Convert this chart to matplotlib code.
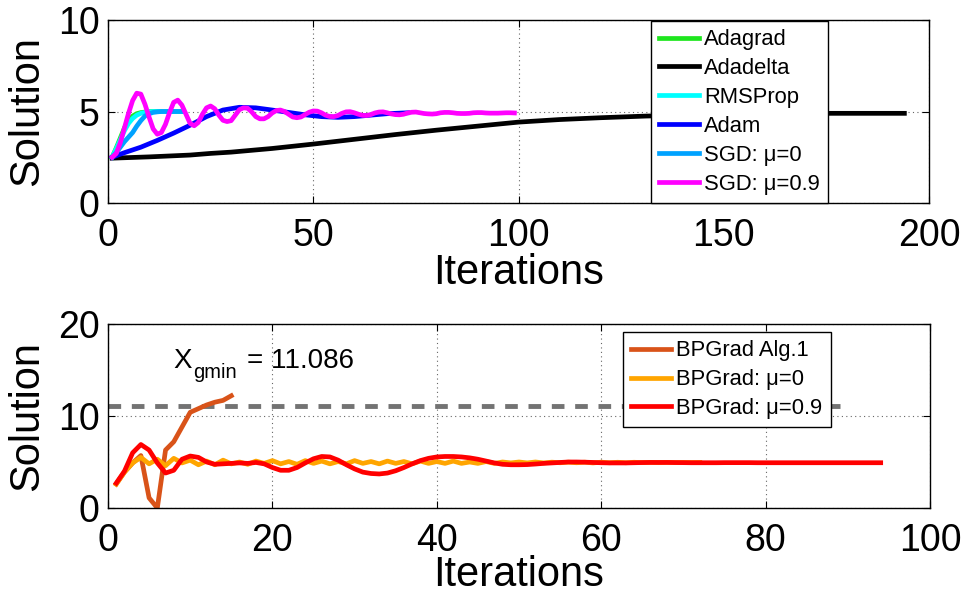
import matplotlib
matplotlib.use("Agg")
import matplotlib.pyplot as plt

plt.rcParams['font.family'] = ['Liberation Sans', 'DejaVu Sans']

# ---------------- upper panel: standard optimisers ----------------
adagrad_x = [1, 2, 3, 4, 5, 6, 7, 8, 9, 10, 11, 12, 14, 16, 18]
adagrad_y = [2.5, 3.0, 3.55, 4.1, 4.5, 4.75, 4.88, 4.94, 4.97, 4.99, 5.0, 5.0, 5.0, 5.0, 5.0]

adadelta_x = [1, 10, 20, 25, 30, 40, 50, 60, 70, 80, 90, 100, 110, 120, 131, 140, 150, 160, 176, 194]
adadelta_y = [2.45, 2.52, 2.62, 2.71, 2.78, 2.98, 3.22, 3.48, 3.74, 3.98, 4.2, 4.42, 4.56, 4.66, 4.75,
              4.8, 4.84, 4.87, 4.9, 4.9]

rmsprop_x = [1, 2, 3, 4, 5, 6, 7, 8, 9, 10, 11, 12, 14, 16, 18]
rmsprop_y = [2.5, 2.95, 3.45, 3.95, 4.35, 4.62, 4.8, 4.9, 4.95, 4.98, 5.0, 5.0, 5.0, 5.0, 5.0]

adam_x = [1, 4, 8, 12, 16, 20, 24, 28, 32, 36, 40, 44, 48, 52, 56, 60, 64, 68, 73]
adam_y = [2.5, 2.75, 3.05, 3.42, 3.82, 4.25, 4.72, 5.08, 5.23, 5.2, 5.08, 4.95, 4.82, 4.72, 4.68,
          4.72, 4.8, 4.88, 4.93]

sgd0_x = [1, 2, 3, 4, 5, 6, 7, 8, 9, 10, 11, 12, 13, 15, 18]
sgd0_y = [2.5, 2.75, 3.05, 3.35, 3.6, 3.85, 4.2, 4.5, 4.75, 4.88, 4.95, 4.98, 5.0, 5.0, 5.0]

sgd9_y = [2.5, 2.7, 3.3, 4.1, 4.9, 5.6, 6.0, 5.95, 5.4, 4.7,
          4.05, 3.76, 3.85, 4.3, 4.95, 5.5, 5.62, 5.35, 4.85, 4.35,
          4.22, 4.4, 4.85, 5.2, 5.3, 5.15, 4.8, 4.52, 4.45, 4.5,
          4.8, 5.1, 5.2, 5.18, 4.98, 4.72, 4.6, 4.6, 4.72, 4.92,
          5.05, 5.08, 5.0, 4.85, 4.7, 4.66, 4.7, 4.83, 4.96, 5.03,
          5.02, 4.93, 4.8, 4.73, 4.72, 4.78, 4.9, 4.98, 4.99, 4.93,
          4.85, 4.79, 4.78, 4.83, 4.92, 4.97, 4.98, 4.93, 4.87, 4.83,
          4.82, 4.85, 4.92, 4.96, 4.97, 4.93, 4.89, 4.87, 4.86, 4.88,
          4.93, 4.95, 4.95, 4.93, 4.9, 4.89, 4.89, 4.9, 4.93, 4.94,
          4.94, 4.92, 4.91, 4.91, 4.91, 4.92, 4.93, 4.93, 4.92]
sgd9_x = list(range(1, len(sgd9_y) + 1))

top_labels = ['Adagrad', 'Adadelta', 'RMSProp', 'Adam', 'SGD: μ=0', 'SGD: μ=0.9']
top_colors = ['#1ee61e', '#000000', '#00ffff', '#0000ff', '#00a2ff', '#ff00ff']

# ---------------- lower panel: BPGrad ----------------
alg1_y = [2.6, 3.9, 4.9, 5.7, 1.1, 0.0, 6.3, 7.2, 8.8, 10.4, 10.8, 11.2, 11.5, 11.7, 12.2]
alg1_x = list(range(1, len(alg1_y) + 1))

bp0_y = [2.6, 3.9, 4.9, 5.5, 4.8, 5.3, 4.6, 5.4, 4.9, 5.2,
         4.7, 5.1, 4.7, 5.2, 4.8, 5.0, 4.75, 5.1, 4.85, 5.15,
         4.8, 5.05, 4.75, 5.15, 4.85, 5.1, 4.8, 5.05, 4.8, 5.15,
         4.85, 5.05, 4.8, 5.1, 4.85, 5.05, 4.8, 5.1, 4.85, 5.05,
         4.85, 5.1, 4.85, 5.0, 4.85, 5.05, 4.85, 5.0, 4.9, 5.0,
         4.9, 5.0, 4.9, 4.98, 4.92, 4.98, 4.92, 4.98, 4.9, 4.98,
         4.92, 4.97, 4.92, 4.97, 4.93, 4.96, 4.93, 4.96, 4.93, 4.95,
         4.94, 4.95]
bp0_x = list(range(1, len(bp0_y) + 1))

bp9_y = [2.7, 4.0, 6.0, 6.9, 6.3, 4.9, 3.8, 4.1, 5.3, 5.65,
         5.5, 5.0, 4.75, 4.8, 4.85, 4.9, 4.85, 4.95, 4.8, 4.4,
         4.1, 4.1, 4.4, 4.9, 5.35, 5.6, 5.55, 5.2, 4.7, 4.25,
         3.9, 3.75, 3.7, 3.8, 4.05, 4.4, 4.8, 5.15, 5.4, 5.55,
         5.6, 5.6, 5.55, 5.45, 5.3, 5.1, 4.9, 4.75, 4.7, 4.7,
         4.72, 4.78, 4.85, 4.9, 4.95, 5.0, 5.0, 4.98, 4.95, 4.92,
         4.9, 4.9, 4.9, 4.92, 4.94, 4.95, 4.95, 4.95, 4.94, 4.93,
         4.92, 4.92, 4.92, 4.92, 4.93, 4.93, 4.93, 4.93, 4.92, 4.92,
         4.92, 4.92, 4.92, 4.92, 4.92, 4.92, 4.92, 4.92, 4.92, 4.92,
         4.92, 4.92, 4.92, 4.92]
bp9_x = list(range(1, len(bp9_y) + 1))

x_gmin = 11.086
gmin_end = 89

bottom_labels = ['BPGrad Alg.1', 'BPGrad: μ=0', 'BPGrad: μ=0.9']
bottom_colors = ['#d95319', '#ffa500', '#ff0000']

TICK_FS = 27
LABEL_FS = 30
LW = 3.4
LEG_FS = 15.8


def style_axes(ax):
    ax.tick_params(direction='in', length=5, width=0.8, top=True, right=True,
                   labelsize=TICK_FS, pad=6)
    ax.tick_params(axis='x', pad=11)
    ax.grid(True, linestyle=(0, (1, 3)), color='0.4', linewidth=0.8)
    for s in ax.spines.values():
        s.set_linewidth(1.0)
    ax.set_axisbelow(True)


def add_legend(ax, anchor):
    leg = ax.legend(loc='upper left', bbox_to_anchor=anchor, borderaxespad=0,
                    fontsize=LEG_FS, handlelength=1.8, handletextpad=0.25,
                    labelspacing=0.36, borderpad=0.38, fancybox=False,
                    framealpha=1, edgecolor='black')
    leg.get_frame().set_linewidth(1.0)
    return leg


fig = plt.figure(figsize=(9.69, 5.98), dpi=100)
W, H = 969, 598
ax1 = fig.add_axes([108 / W, 1 - 203 / H, 821 / W, 183 / H])
ax2 = fig.add_axes([108 / W, 1 - 508 / H, 822 / W, 184 / H])

series_top = [(adagrad_x, adagrad_y), (adadelta_x, adadelta_y), (rmsprop_x, rmsprop_y),
              (adam_x, adam_y), (sgd0_x, sgd0_y), (sgd9_x, sgd9_y)]
for (xs, ys), lab, col in zip(series_top, top_labels, top_colors):
    ax1.plot(xs, ys, color=col, lw=LW, label=lab)

ax1.set_xlim(0, 200)
ax1.set_ylim(0, 10)
ax1.set_xticks([0, 50, 100, 150, 200])
ax1.set_yticks([0, 5, 10])
ax1.set_xlabel('Iterations', fontsize=LABEL_FS, labelpad=-1)
ax1.set_ylabel('Solution', fontsize=LABEL_FS, labelpad=8)
style_axes(ax1)
add_legend(ax1, (0.661, 0.995))

ax2.plot([0, gmin_end], [x_gmin, x_gmin], color='0.45', lw=3.5, dashes=(2.6, 2.2), zorder=1.5)
series_bot = [(alg1_x, alg1_y), (bp0_x, bp0_y), (bp9_x, bp9_y)]
for (xs, ys), lab, col in zip(series_bot, bottom_labels, bottom_colors):
    ax2.plot(xs, ys, color=col, lw=LW, label=lab, zorder=2)

# label of the global-minimum line: X with a lowered "gmin" subscript
lab_xy = (8.0, 15.2)
ax2.annotate('X', xy=lab_xy, fontsize=20, ha='left', va='baseline')
ax2.annotate('gmin', xy=lab_xy, xytext=(13.8, -7.4), textcoords='offset points',
             fontsize=14.5, ha='left', va='baseline')
ax2.annotate('= %.3f' % x_gmin, xy=lab_xy, xytext=(52.5, 0), textcoords='offset points',
             fontsize=20, ha='left', va='baseline')

ax2.set_xlim(0, 100)
ax2.set_ylim(0, 20)
ax2.set_xticks([0, 20, 40, 60, 80, 100])
ax2.set_yticks([0, 10, 20])
ax2.set_xlabel('Iterations', fontsize=LABEL_FS, labelpad=-3)
ax2.set_ylabel('Solution', fontsize=LABEL_FS, labelpad=8)
style_axes(ax2)
add_legend(ax2, (0.6265, 0.9565))

fig.savefig('out.png', dpi=100)
